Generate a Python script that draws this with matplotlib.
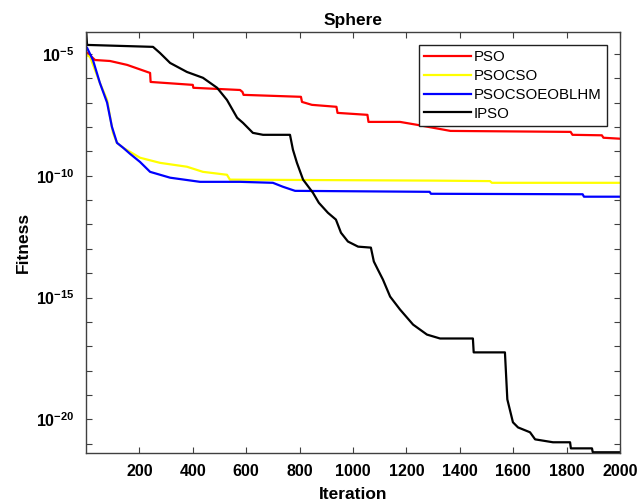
"""
Sphere 函数收敛曲线 - PSO / PSOCSO / PSOCSOEOBLHM / IPSO 对比
"""

import matplotlib
matplotlib.use("Agg")
import matplotlib.pyplot as plt
from matplotlib.ticker import FixedLocator, FuncFormatter, NullLocator
import numpy as np

plt.rcParams["font.family"] = ["Liberation Sans", "DejaVu Sans"]
plt.rcParams["mathtext.fontset"] = "custom"
plt.rcParams["mathtext.rm"] = "Liberation Sans:bold"
plt.rcParams["mathtext.default"] = "rm"

# ============================================================
# 数据（迭代次数, log10(fitness)）
# ============================================================
pso_iter = [1, 34, 90, 154, 240, 242, 400, 402, 577, 586, 590, 805, 809,
            846, 938, 942, 1054, 1058, 1176, 1240, 1365, 1815, 1822, 1932,
            1938, 2000]
pso_log = [-4.92, -5.25, -5.29, -5.45, -5.78, -6.15, -6.27, -6.39, -6.48,
           -6.56, -6.68, -6.76, -6.97, -7.09, -7.17, -7.42, -7.50, -7.79,
           -7.79, -7.91, -8.16, -8.20, -8.32, -8.34, -8.44, -8.48]

psocso_iter = [1, 15, 52, 79, 101, 116, 139, 202, 277, 378, 438, 528, 539,
               1300, 1513, 1520, 2000]
psocso_log = [-5.04, -5.12, -6.19, -6.89, -8.24, -8.65, -8.85, -9.26, -9.47,
              -9.63, -9.84, -9.96, -10.16, -10.20, -10.22, -10.29, -10.29]

eobl_iter = [4, 26, 52, 79, 97, 116, 139, 165, 202, 240, 315, 427, 577, 700,
             737, 783, 1287, 1292, 1860, 1865, 2000]
eobl_log = [-4.75, -5.25, -6.19, -7.00, -7.99, -8.65, -8.85, -9.10, -9.43,
            -9.84, -10.08, -10.25, -10.25, -10.29, -10.45, -10.62, -10.66,
            -10.74, -10.76, -10.86, -10.86]

ipso_iter = [1, 4, 251, 277, 315, 378, 438, 491, 528, 566, 588, 625, 663,
             764, 775, 790, 813, 850, 872, 906, 936, 955, 981, 1019, 1067,
             1078, 1093, 1112, 1139, 1176, 1225, 1277, 1326, 1449, 1452, 1569,
             1578, 1599, 1618, 1663, 1682, 1749, 1813, 1816, 1895, 1898, 2000]
ipso_log = [-4.14, -4.63, -4.71, -4.96, -5.37, -5.74, -5.98, -6.39, -6.89,
            -7.62, -7.83, -8.24, -8.32, -8.32, -8.93, -9.47, -10.16, -10.70,
            -11.11, -11.52, -11.80, -12.34, -12.70, -12.91, -12.95, -13.52,
            -13.85, -14.26, -14.96, -15.49, -16.11, -16.52, -16.68, -16.68,
            -17.25, -17.25, -19.18, -20.12, -20.33, -20.53, -20.82, -20.94,
            -20.94, -21.19, -21.19, -21.35, -21.35]

labels = ["PSO", "PSOCSO", "PSOCSOEOBLHM", "IPSO"]
colors = ["#ff0000", "#ffff00", "#0000ff", "#000000"]

series = [(pso_iter, pso_log), (psocso_iter, psocso_log),
          (eobl_iter, eobl_log), (ipso_iter, ipso_log)]

fig = plt.figure(figsize=(6.38, 5.04), dpi=100)
ax = fig.add_axes([0.1348, 0.1012, 0.837, 0.8353])

for (it, lg), lab, col in zip(series, labels, colors):
    ax.semilogy(it, 10.0 ** np.array(lg), color=col, linewidth=1.6, label=lab)

ax.set_xlim(0, 2000)
ax.set_ylim(10 ** -21.38, 10 ** -4.1)

ax.xaxis.set_major_locator(FixedLocator(np.arange(200, 2001, 200)))
ax.yaxis.set_major_locator(FixedLocator([10.0 ** k for k in range(-21, -4)]))
ax.yaxis.set_minor_locator(NullLocator())


def _fmt(v, pos):
    k = int(round(np.log10(v)))
    return r"$10^{%d}$" % k if k % 5 == 0 else ""


ax.yaxis.set_major_formatter(FuncFormatter(_fmt))

ax.tick_params(which="both", direction="in", top=True, right=True,
               length=4, width=0.8, color="#404040", labelsize=11.5, pad=8)
for lbl in ax.get_xticklabels():
    lbl.set_fontweight("bold")
for sp in ax.spines.values():
    sp.set_color("#404040")
    sp.set_linewidth(1.0)

ax.set_title("Sphere", fontsize=12.5, fontweight="bold", pad=5)
ax.set_xlabel("Iteration", fontsize=12.5, fontweight="bold", labelpad=6)
ax.set_ylabel("Fitness", fontsize=12.5, fontweight="bold", labelpad=4)

leg = ax.legend(loc="upper right", bbox_to_anchor=(0.975, 0.969),
                fontsize=10.8, frameon=True, fancybox=False, framealpha=1,
                edgecolor="#202020", borderpad=0.35, labelspacing=0.32,
                handlelength=3.1, handletextpad=0.2, borderaxespad=0)
leg.get_frame().set_linewidth(1.0)

fig.savefig("out.png", dpi=100, facecolor="white")
